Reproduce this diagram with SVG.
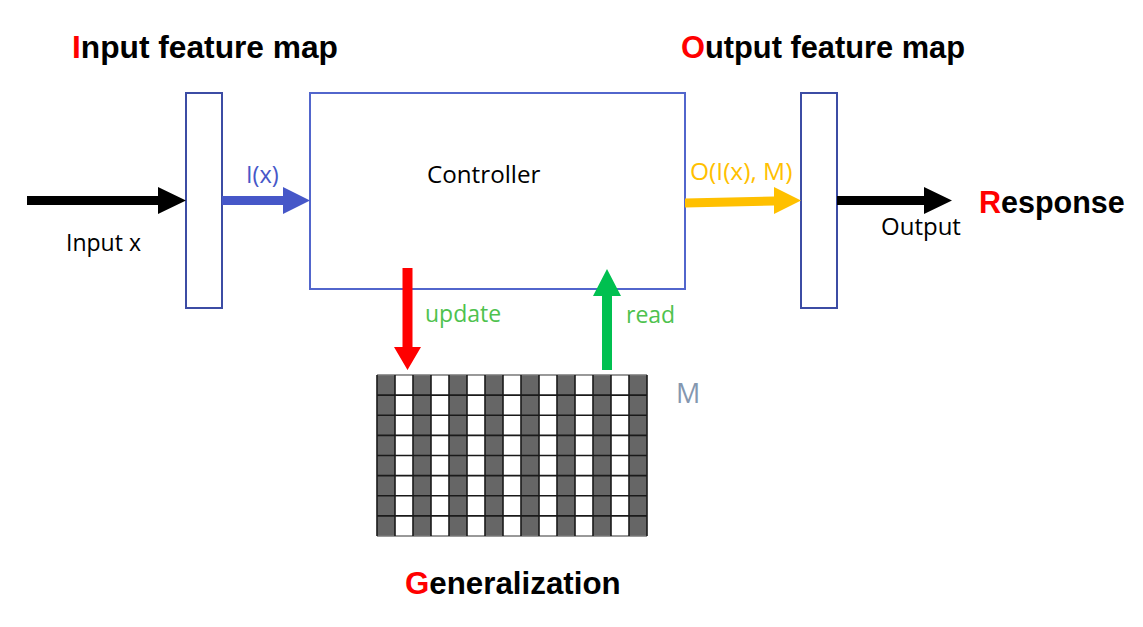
<svg xmlns="http://www.w3.org/2000/svg" width="1143" height="627" viewBox="0 0 1143 627">
<style>
.title{font-family:"Liberation Sans",Arial,sans-serif;font-weight:bold;font-size:30.5px;fill:#000}
.red{fill:#ff0000}
.lbl{font-family:"Open Sans","Noto Sans",sans-serif;font-size:23px}
.fm{fill:#fff;stroke:#3c4ca4;stroke-width:2}
.ctrl{fill:#fff;stroke:#5266cc;stroke-width:2}
.dark{fill:#666}
.gl{stroke:#1a1a1a;stroke-width:1.6}
</style>
<rect width="1143" height="627" fill="#fff"/>
<g id="input-feature-map">
<rect class="fm" x="186" y="93" width="36" height="215"/>
<text class="title" x="72" y="58" textLength="266" lengthAdjust="spacingAndGlyphs" style="font-size:31.5px"><tspan class="red">I</tspan>nput feature map</text>
</g>
<g id="controller">
<rect class="ctrl" x="310" y="93" width="375" height="196"/>
<text class="lbl" x="427" y="183" fill="#000" style="font-size:24.2px">Controller</text>
</g>
<g id="output-feature-map">
<rect class="fm" x="801" y="93" width="36" height="215"/>
<text class="title" x="681" y="58" style="font-size:30.8px"><tspan class="red">O</tspan>utput feature map</text>
</g>
<g id="response">
<text class="title" x="979" y="213"><tspan class="red">R</tspan>esponse</text>
</g>
<g id="memory">
<rect x="377" y="375" width="270" height="161" fill="#fff"/>
<g class="dark">
<rect x="377" y="375" width="18" height="161"/>
<rect x="413" y="375" width="18" height="161"/>
<rect x="449" y="375" width="18" height="161"/>
<rect x="485" y="375" width="18" height="161"/>
<rect x="521" y="375" width="18" height="161"/>
<rect x="557" y="375" width="18" height="161"/>
<rect x="593" y="375" width="18" height="161"/>
<rect x="629" y="375" width="18" height="161"/>
</g>
<g class="gl">
<line x1="377" y1="375" x2="647" y2="375" stroke="#777"/>
<line x1="377" y1="395.1" x2="647" y2="395.1"/>
<line x1="377" y1="415.3" x2="647" y2="415.3"/>
<line x1="377" y1="435.4" x2="647" y2="435.4"/>
<line x1="377" y1="455.5" x2="647" y2="455.5"/>
<line x1="377" y1="475.6" x2="647" y2="475.6"/>
<line x1="377" y1="495.8" x2="647" y2="495.8"/>
<line x1="377" y1="515.9" x2="647" y2="515.9"/>
<line x1="377" y1="536" x2="647" y2="536" stroke="#777"/>
<line x1="377" y1="375" x2="377" y2="536"/>
<line x1="395" y1="375" x2="395" y2="536"/>
<line x1="413" y1="375" x2="413" y2="536"/>
<line x1="431" y1="375" x2="431" y2="536"/>
<line x1="449" y1="375" x2="449" y2="536"/>
<line x1="467" y1="375" x2="467" y2="536"/>
<line x1="485" y1="375" x2="485" y2="536"/>
<line x1="503" y1="375" x2="503" y2="536"/>
<line x1="521" y1="375" x2="521" y2="536"/>
<line x1="539" y1="375" x2="539" y2="536"/>
<line x1="557" y1="375" x2="557" y2="536"/>
<line x1="575" y1="375" x2="575" y2="536"/>
<line x1="593" y1="375" x2="593" y2="536"/>
<line x1="611" y1="375" x2="611" y2="536"/>
<line x1="629" y1="375" x2="629" y2="536"/>
<line x1="647" y1="375" x2="647" y2="536"/>
</g>
<text class="lbl" x="676" y="403" fill="#8497b0" style="font-size:27px">M</text>
<text class="title" x="405" y="594" style="font-size:31.3px"><tspan class="red">G</tspan>eneralization</text>
</g>
<g id="connectors">
<polygon points="27,196 158,196 158,187 186,200.5 158,214 158,205 27,205" fill="#000"/>
<text class="lbl" x="66" y="251" fill="#000">Input x</text>
<polygon points="222,196 283,196 283,187 310,200.5 283,214 283,205 222,205" fill="#4657c8"/>
<text class="lbl" x="246" y="183" fill="#4657c8" style="font-size:23.5px">I(x)</text>
<polygon points="685,198.5 774,196.5 774,187 801,200.5 774,214 774,205.5 685,207.5" fill="#ffc000"/>
<text class="lbl" x="690" y="180" fill="#ffc000" style="font-size:24.5px">O(I(x), M)</text>
<polygon points="837,196 924,196 924,187 952,200.5 924,214 924,205 837,205" fill="#000"/>
<text class="lbl" x="881" y="235" fill="#000" style="font-size:24px">Output</text>
<polygon points="402.5,268 412.5,268 412.5,347 421,347 407.5,370 394,347 402.5,347" fill="#ff0000"/>
<text class="lbl" x="425" y="322" fill="#4ec24e">update</text>
<polygon points="607,269 621,296 612,296 612,370 602,370 602,296 593,296" fill="#00c050"/>
<text class="lbl" x="626" y="323" fill="#4ec24e">read</text>
</g>
</svg>
